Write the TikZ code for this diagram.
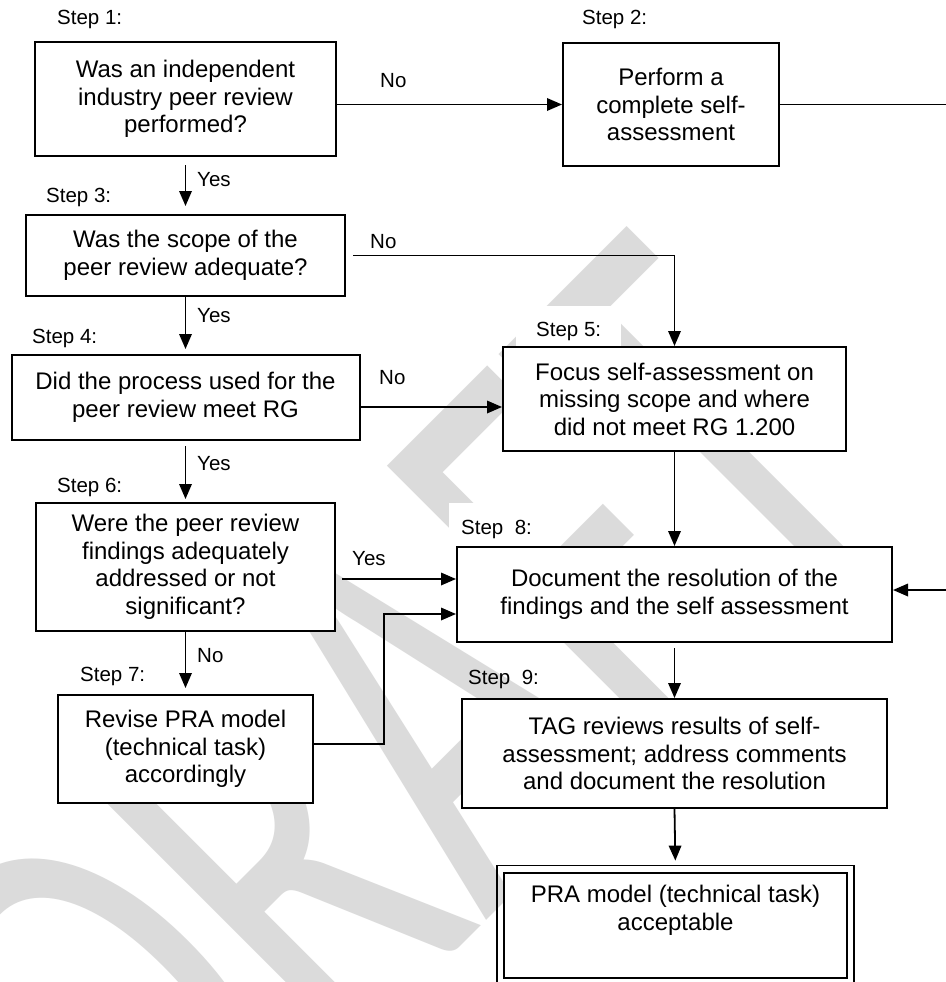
\documentclass[tikz,border=0pt]{standalone}
\usepackage{fontspec}
\setmainfont{Liberation Sans}
\newfontfamily\wmfont{Carlito}
\usetikzlibrary{arrows.meta,calc}

\definecolor{wmgray}{gray}{0.86}

\tikzset{
  box/.style={draw, line width=2pt, fill=white, align=center, inner sep=0pt,
    font=\fontsize{24}{27.5}\selectfont},
  steplabel/.style={anchor=base west, inner sep=0pt, font=\fontsize{20.5}{24}\selectfont},
  flow/.style={line width=1.8pt, -{Triangle[length=15pt,width=12.5pt]}},
}

\begin{document}
\begin{tikzpicture}[x=1pt,y=-1pt]
  % page area
  \fill[white] (0,0) rectangle (945,982);
  \useasboundingbox (0,0) rectangle (945,982);

  % diagonal watermark behind the chart
  \node[text=wmgray, font=\wmfont\fontsize{610}{610}\selectfont, anchor=base east,
        inner sep=0pt, rotate=45, xscale=0.64] (wm) at (907,500) {DRAFT};

  % step labels
  \node[steplabel] (s1) at (57,25) {Step 1:};
  \node[steplabel] (s2) at (582,25) {Step 2:};
  \node[steplabel] (s3) at (46,202) {Step 3:};
  \node[steplabel] (s4) at (32,343) {Step 4:};
  \node[steplabel, fill=white, inner xsep=20pt, inner ysep=16pt] (s5) at (516,336) {Step 5:};
  \node[steplabel] (s6) at (57,492) {Step 6:};
  \node[steplabel] (s7) at (80,681) {Step 7:};
  \node[steplabel, fill=white, inner xsep=12pt, inner ysep=17pt] (s8) at (449,534) {Step~~8:};
  \node[steplabel] (s9) at (468,684) {Step~~9:};

  % process boxes
  \node[box, minimum width=301pt, minimum height=114pt] (b1) at (185.5,99)
    {Was an independent\\industry peer review\\performed?};
  \node[box, minimum width=216pt, minimum height=123pt] (b2) at (671,104.5)
    {Perform a\\complete self-\\assessment};
  \node[box, minimum width=319pt, minimum height=81pt] (b3) at (185.5,255.5)
    {Was the scope of the\\peer review adequate?};
  \node[box, minimum width=348pt, minimum height=85pt] (b4) at (185.5,397.5)
    {Did the process used for the\\peer review meet RG};
  \node[box, minimum width=343pt, minimum height=104pt] (b5) at (674.5,399)
    {Focus self-assessment on\\missing scope and where\\did not meet RG 1.200};
  \node[box, minimum width=299pt, minimum height=128pt] (b6) at (185.5,567)
    {Were the peer review\\findings adequately\\addressed or not\\significant?};
  \node[box, minimum width=255pt, minimum height=108pt] (b7) at (185.5,749)
    {Revise PRA model\\(technical task)\\accordingly};
  \node[box, minimum width=435pt, minimum height=95pt] (b8) at (674.5,594.5)
    {Document the resolution of the\\findings and the self assessment};
  \node[box, minimum width=425pt, minimum height=109pt] (b9) at (674.5,753.5)
    {TAG reviews results of self-\\assessment; address comments\\and document the resolution};
  \node[box, line width=2.8pt, minimum width=343pt, minimum height=105pt] (b10) at (675.5,925.5)
    {PRA model (technical task)\\acceptable\\\strut};
  % outer frame of the final box
  \draw[line width=1.4pt] ([shift={(-5.5pt,6pt)}]b10.north west) rectangle ([shift={(5.5pt,-6pt)}]b10.south east);

  % branch labels
  \node[steplabel] (n12) at (380,87) {No};
  \node[steplabel] (n35) at (370,248) {No};
  \node[steplabel] (n45) at (379,384) {No};
  \node[steplabel] (n67) at (197,662) {No};
  \node[steplabel] (y13) at (197,186) {Yes};
  \node[steplabel] (y34) at (197,322) {Yes};
  \node[steplabel] (y46) at (197,470) {Yes};
  \node[steplabel] (y68) at (352,565) {Yes};

  % helper points for the routed connectors
  \coordinate (rt) at (947,105);
  \coordinate (jog) at (384,0);
  \coordinate (b4out) at ([yshift=-9.5pt]b4.east);
  \coordinate (b6out) at ([yshift=-12pt]b6.east);
  \coordinate (b7out) at ([yshift=5pt]b7.east);
  \coordinate (b8inA) at ([yshift=4.5pt]b8.east);
  \coordinate (b8inB) at ([yshift=-19.5pt]b8.west);

  % connectors
  \draw[flow] (b1.east |- b2.west) -- (b2.west);
  \draw[flow] (b2.east) -- (b2.east -| rt) |- (b8inA);
  \draw[flow, shorten <=8pt, shorten >=8pt] (b1.south) -- (b3.north);
  \draw[flow, shorten >=5pt] (b3.south) -- (b4.north);
  \draw[flow, shorten <=5pt, shorten >=3pt] (b4.south) -- (b6.north);
  \draw[flow, shorten >=6pt] (b6.south) -- (b7.north);
  \draw[flow, shorten <=7pt] (b3.east) -- (b3.east -| b5.north) -- (b5.north);
  \draw[flow] (b4out) -- (b4out -| b5.west);
  \draw[flow] (b5.south) -- (b8.north);
  \draw[flow, shorten <=6pt] (b6out) -- (b6out -| b8.west);
  \draw[flow] (b7out) -- (b7out -| jog) |- (b8inB);
  \draw[flow, shorten <=5pt] (b8.south) -- (b9.north);
  \draw[flow, shorten >=11pt] (b9.south) -- (b10.north);
\end{tikzpicture}
\end{document}
